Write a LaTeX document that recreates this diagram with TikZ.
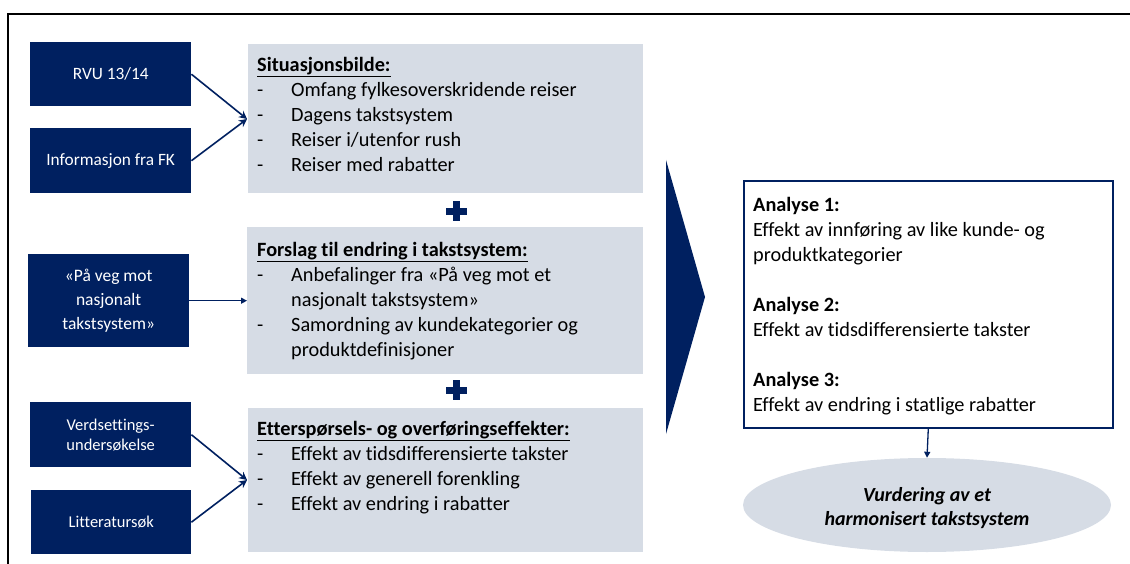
\documentclass[tikz,border=0pt]{standalone}
\usepackage{fontspec}
\setmainfont{Carlito}[Ligatures=NoCommon]
\usetikzlibrary{arrows.meta,shapes.geometric}
\definecolor{navy}{HTML}{002060}
\definecolor{lightbox}{HTML}{D6DCE5}
\begin{document}
\begin{tikzpicture}[x=1pt,y=-1pt,
  src/.style={fill=navy, draw=none, text=white, inner sep=0pt, align=center,
    minimum width=161pt, anchor=north west},
  panel/.style={fill=lightbox, draw=none, inner sep=0pt, anchor=north west},
  ptext/.style={inner sep=0pt, anchor=north west, font=\fontsize{20.3}{25}\selectfont},
  conn/.style={draw=navy, line width=1.6pt, -{Stealth[length=8pt,width=8pt]}},
  connh/.style={draw=navy, line width=1.3pt, -{Triangle[length=6pt,width=6pt]}},
  plusbar/.style={fill=navy, draw=none}]
\useasboundingbox (0,0) rectangle (1130,564);
% frame
\draw[line width=2pt] (8,564) -- (8,14) -- (1130,14);

% source boxes
\node[src, minimum height=64pt, font=\fontsize{17.3}{20}\selectfont] (rvu) at (30,42) {RVU 13/14};
\node[src, minimum height=65pt, font=\fontsize{17.3}{20}\selectfont] (fk) at (30,128) {Informasjon fra FK};
\node[src, minimum height=93pt, font=\fontsize{17.5}{24}\selectfont] (pvm) at (28,254) {«På veg mot\\nasjonalt\\takstsystem»};
\node[src, minimum height=65pt, font=\fontsize{16.5}{20}\selectfont] (vs) at (30,402) {Verdsettings-\\undersøkelse};
\node[src, minimum height=64pt, minimum width=160pt, font=\fontsize{16.5}{20}\selectfont] (lit) at (31,490) {Litteratursøk};

% panels
\node[panel, minimum width=395pt, minimum height=149pt] (sit) at (248,44) {};
\node[panel, minimum width=396pt, minimum height=147pt] (fors) at (247,227) {};
\node[panel, minimum width=395pt, minimum height=144pt] (ett) at (248,408) {};

\node[ptext] (sittxt) at (257,53.5) {\begin{tabular}{@{}l@{}}
\textbf{\underline{Situasjonsbilde:}}\\
\makebox[34pt][l]{-}Omfang fylkesoverskridende reiser\\
\makebox[34pt][l]{-}Dagens takstsystem\\
\makebox[34pt][l]{-}Reiser i/utenfor rush\\
\makebox[34pt][l]{-}Reiser med rabatter
\end{tabular}};
\node[ptext] (forstxt) at (257,238.5) {\begin{tabular}{@{}l@{}}
\textbf{\underline{Forslag til endring i takstsystem:}}\\
\makebox[34pt][l]{-}Anbefalinger fra «På veg mot et\\
\hspace*{34pt}nasjonalt takstsystem»\\
\makebox[34pt][l]{-}Samordning av kundekategorier og\\
\hspace*{34pt}produktdefinisjoner
\end{tabular}};
\node[ptext] (etttxt) at (257,418) {\begin{tabular}{@{}l@{}}
\textbf{\underline{Etterspørsels- og overføringseffekter:}}\\
\makebox[34pt][l]{-}Effekt av tidsdifferensierte takster\\
\makebox[34pt][l]{-}Effekt av generell forenkling\\
\makebox[34pt][l]{-}Effekt av endring i rabatter
\end{tabular}};

% plus signs
\fill[plusbar] (446,208) rectangle (467,215);
\fill[plusbar] (453,201) rectangle (460,221);
\fill[plusbar] (446,387) rectangle (467,394);
\fill[plusbar] (453,380) rectangle (460,400);

% connectors on the left
\coordinate (sin) at (247,119);
\coordinate (ein) at (247,480);
\draw[conn] (rvu.east) -- (sin);
\draw[conn] (fk.east) -- (sin);
\draw[connh] (pvm.east) -- (pvm.east -| fors.west);
\draw[conn] (vs.east) -- (ein);
\draw[conn] (lit.east) -- (ein);

% chevron
\fill[navy] (666,160) -- (705,297) -- (666,434) -- cycle;

% analysis box
\node[draw=navy, line width=1.6pt, fill=white, anchor=north west, minimum width=369pt,
  minimum height=247pt, inner sep=0pt] (ana) at (743,180) {};
\node[inner sep=0pt, anchor=north west, font=\fontsize{20.3}{25}\selectfont] (anatxt) at (753,194) {\begin{tabular}{@{}l@{}}
\textbf{Analyse 1:}\\
Effekt av innføring av like kunde- og\\
produktkategorier\\
\\
\textbf{Analyse 2:}\\
Effekt av tidsdifferensierte takster\\
\\
\textbf{Analyse 3:}\\
Effekt av endring i statlige rabatter
\end{tabular}};

% goal ellipse
\node[ellipse, fill=lightbox, draw=none, minimum width=368pt, minimum height=94pt,
  inner sep=0pt] (goal) at (927,505) {};
\node[inner sep=0pt, align=center, font=\fontsize{20}{24}\selectfont\bfseries\itshape] (goaltxt) at (927,508.5)
  {Vurdering av et\\harmonisert takstsystem};
\draw[connh] (ana.south) -- (goal.north);
\end{tikzpicture}
\end{document}
